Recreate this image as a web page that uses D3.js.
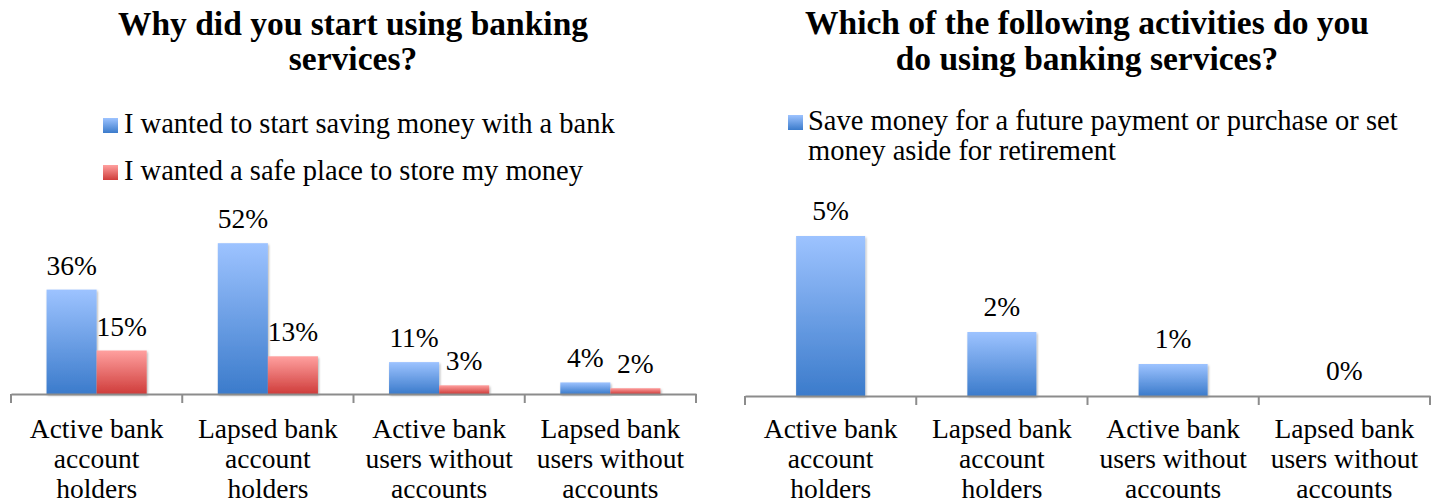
<!DOCTYPE html>
<html>
<head>
<meta charset="utf-8">
<script src="https://cdn.jsdelivr.net/npm/d3@7"></script>
<style>
  html, body { margin: 0; padding: 0; background: #fff; }
  svg { display: block; }
  text { font-family: "Liberation Serif", "Times New Roman", serif; fill: #000; }
</style>
</head>
<body>
<svg id="chart" width="1438" height="503"></svg>
<script>
// Survey categories (line breaks mark how each axis label wraps)
const categories = [
  "Active bank\naccount\nholders",
  "Lapsed bank\naccount\nholders",
  "Active bank\nusers without\naccounts",
  "Lapsed bank\nusers without\naccounts"
];

// Why did you start using banking services? (percent)
const startSaving = [36, 52, 11, 4];
const safePlace   = [15, 13, 3, 2];

// Which activities do you do using banking services? (percent)
const saveForFuture = [5, 2, 1, 0];

const leftTitle  = ["Why did you start using banking", "services?"];
const rightTitle = ["Which of the following activities do you", "do using banking services?"];
const leftLegend = ["I wanted to start saving money with a bank", "I wanted a safe place to store my money"];
const rightLegend = ["Save money for a future payment or purchase or set", "money aside for retirement"];

const svg = d3.select("#chart");
const defs = svg.append("defs");

function gradient(id, top, bottom) {
  const g = defs.append("linearGradient").attr("id", id)
    .attr("x1", 0).attr("y1", 0).attr("x2", 0).attr("y2", 1);
  g.append("stop").attr("offset", "0%").attr("stop-color", top);
  g.append("stop").attr("offset", "100%").attr("stop-color", bottom);
}
gradient("gBlue", "#9dc3ff", "#3b7bcb");
gradient("gRed", "#ffa09f", "#cf3d3b");

const shadow = defs.append("filter").attr("id", "barShadow")
  .attr("x", "-10%").attr("y", "-10%").attr("width", "130%").attr("height", "130%");
shadow.append("feDropShadow").attr("dx", 1).attr("dy", 1.5)
  .attr("stdDeviation", 1.2).attr("flood-color", "#000").attr("flood-opacity", 0.3);

const bodySize = 27.5;
const legendSize = 28.5;
const titleSize = 33.5;

function drawTitle(lines, cx, y0, dy) {
  const t = svg.append("text").attr("text-anchor", "middle")
    .attr("font-weight", "bold").attr("font-size", titleSize);
  lines.forEach((l, i) => t.append("tspan").attr("x", cx).attr("y", y0 + i * dy).text(l));
}

function drawAxis(x, yBase) {
  const g = svg.append("g").attr("transform", `translate(0,${yBase})`);
  g.call(d3.axisBottom(x).tickSize(0).tickFormat(""));
  g.select(".domain").attr("stroke", "#8c8c8c").attr("stroke-width", 2);
  const edges = categories.map(c => x(c)).concat([x(categories[categories.length - 1]) + x.bandwidth()]);
  g.selectAll("line.edge").data(edges).join("line").attr("class", "edge")
    .attr("x1", d => d).attr("x2", d => d).attr("y1", 0).attr("y2", 9)
    .attr("stroke", "#8c8c8c").attr("stroke-width", 2);
  // wrapped category labels
  categories.forEach(c => {
    const t = svg.append("text").attr("text-anchor", "middle").attr("font-size", bodySize);
    c.split("\n").forEach((l, i) =>
      t.append("tspan").attr("x", x(c) + x.bandwidth() / 2).attr("y", 438 + i * 30).text(l));
  });
}

// ---------- Left chart: grouped bars ----------
{
  const yBase = 394;
  const x = d3.scaleBand().domain(categories).range([11, 696]).padding(0);
  const series = [
    { key: "save", values: startSaving, fill: "url(#gBlue)" },
    { key: "safe", values: safePlace, fill: "url(#gRed)" }
  ];
  const x1 = d3.scaleBand().domain(series.map(s => s.key))
    .range([0, x.bandwidth()]).paddingInner(0).paddingOuter(0.71);
  const y = d3.scaleLinear().domain([0, 60]).range([yBase, yBase - 174]);

  drawTitle(leftTitle, 353, 35, 35);

  // legend
  leftLegend.forEach((l, i) => {
    const yy = 133 + i * 47;
    svg.append("rect").attr("x", 103).attr("y", yy - 15).attr("width", 15).attr("height", 15)
      .attr("fill", series[i].fill);
    svg.append("text").attr("x", 124).attr("y", yy).attr("font-size", legendSize).text(l);
  });

  series.forEach(s => {
    const g = svg.append("g");
    g.selectAll("rect").data(categories).join("rect")
      .attr("x", c => x(c) + x1(s.key))
      .attr("width", x1.bandwidth())
      .attr("y", (c, i) => y(s.values[i]))
      .attr("height", (c, i) => yBase - y(s.values[i]))
      .attr("fill", s.fill)
      .attr("filter", "url(#barShadow)");
    g.selectAll("text").data(categories).join("text")
      .attr("text-anchor", "middle").attr("font-size", bodySize)
      .attr("x", c => x(c) + x1(s.key) + x1.bandwidth() / 2)
      .attr("y", (c, i) => y(s.values[i]) - 15)
      .text((c, i) => s.values[i] + "%");
  });

  drawAxis(x, yBase);
}

// ---------- Right chart: single series ----------
{
  const yBase = 396;
  const x = d3.scaleBand().domain(categories).range([745, 1430]).padding(0);
  const y = d3.scaleLinear().domain([0, 6]).range([yBase, yBase - 192]);
  const bw = x.bandwidth() * 0.403;

  drawTitle(rightTitle, 1087, 34, 36);

  svg.append("rect").attr("x", 788).attr("y", 115).attr("width", 15).attr("height", 15)
    .attr("fill", "url(#gBlue)");
  const lt = svg.append("text").attr("font-size", legendSize);
  rightLegend.forEach((l, i) => lt.append("tspan").attr("x", 808).attr("y", 130 + i * 30).text(l));

  svg.append("g").selectAll("rect").data(categories).join("rect")
    .attr("x", c => x(c) + (x.bandwidth() - bw) / 2)
    .attr("width", bw)
    .attr("y", (c, i) => y(saveForFuture[i]))
    .attr("height", (c, i) => yBase - y(saveForFuture[i]))
    .attr("fill", "url(#gBlue)")
    .attr("filter", "url(#barShadow)");

  svg.append("g").selectAll("text").data(categories).join("text")
    .attr("text-anchor", "middle").attr("font-size", bodySize)
    .attr("x", c => x(c) + x.bandwidth() / 2)
    .attr("y", (c, i) => y(saveForFuture[i]) - 16)
    .text((c, i) => saveForFuture[i] + "%");

  drawAxis(x, yBase);
}
</script>
</body>
</html>
